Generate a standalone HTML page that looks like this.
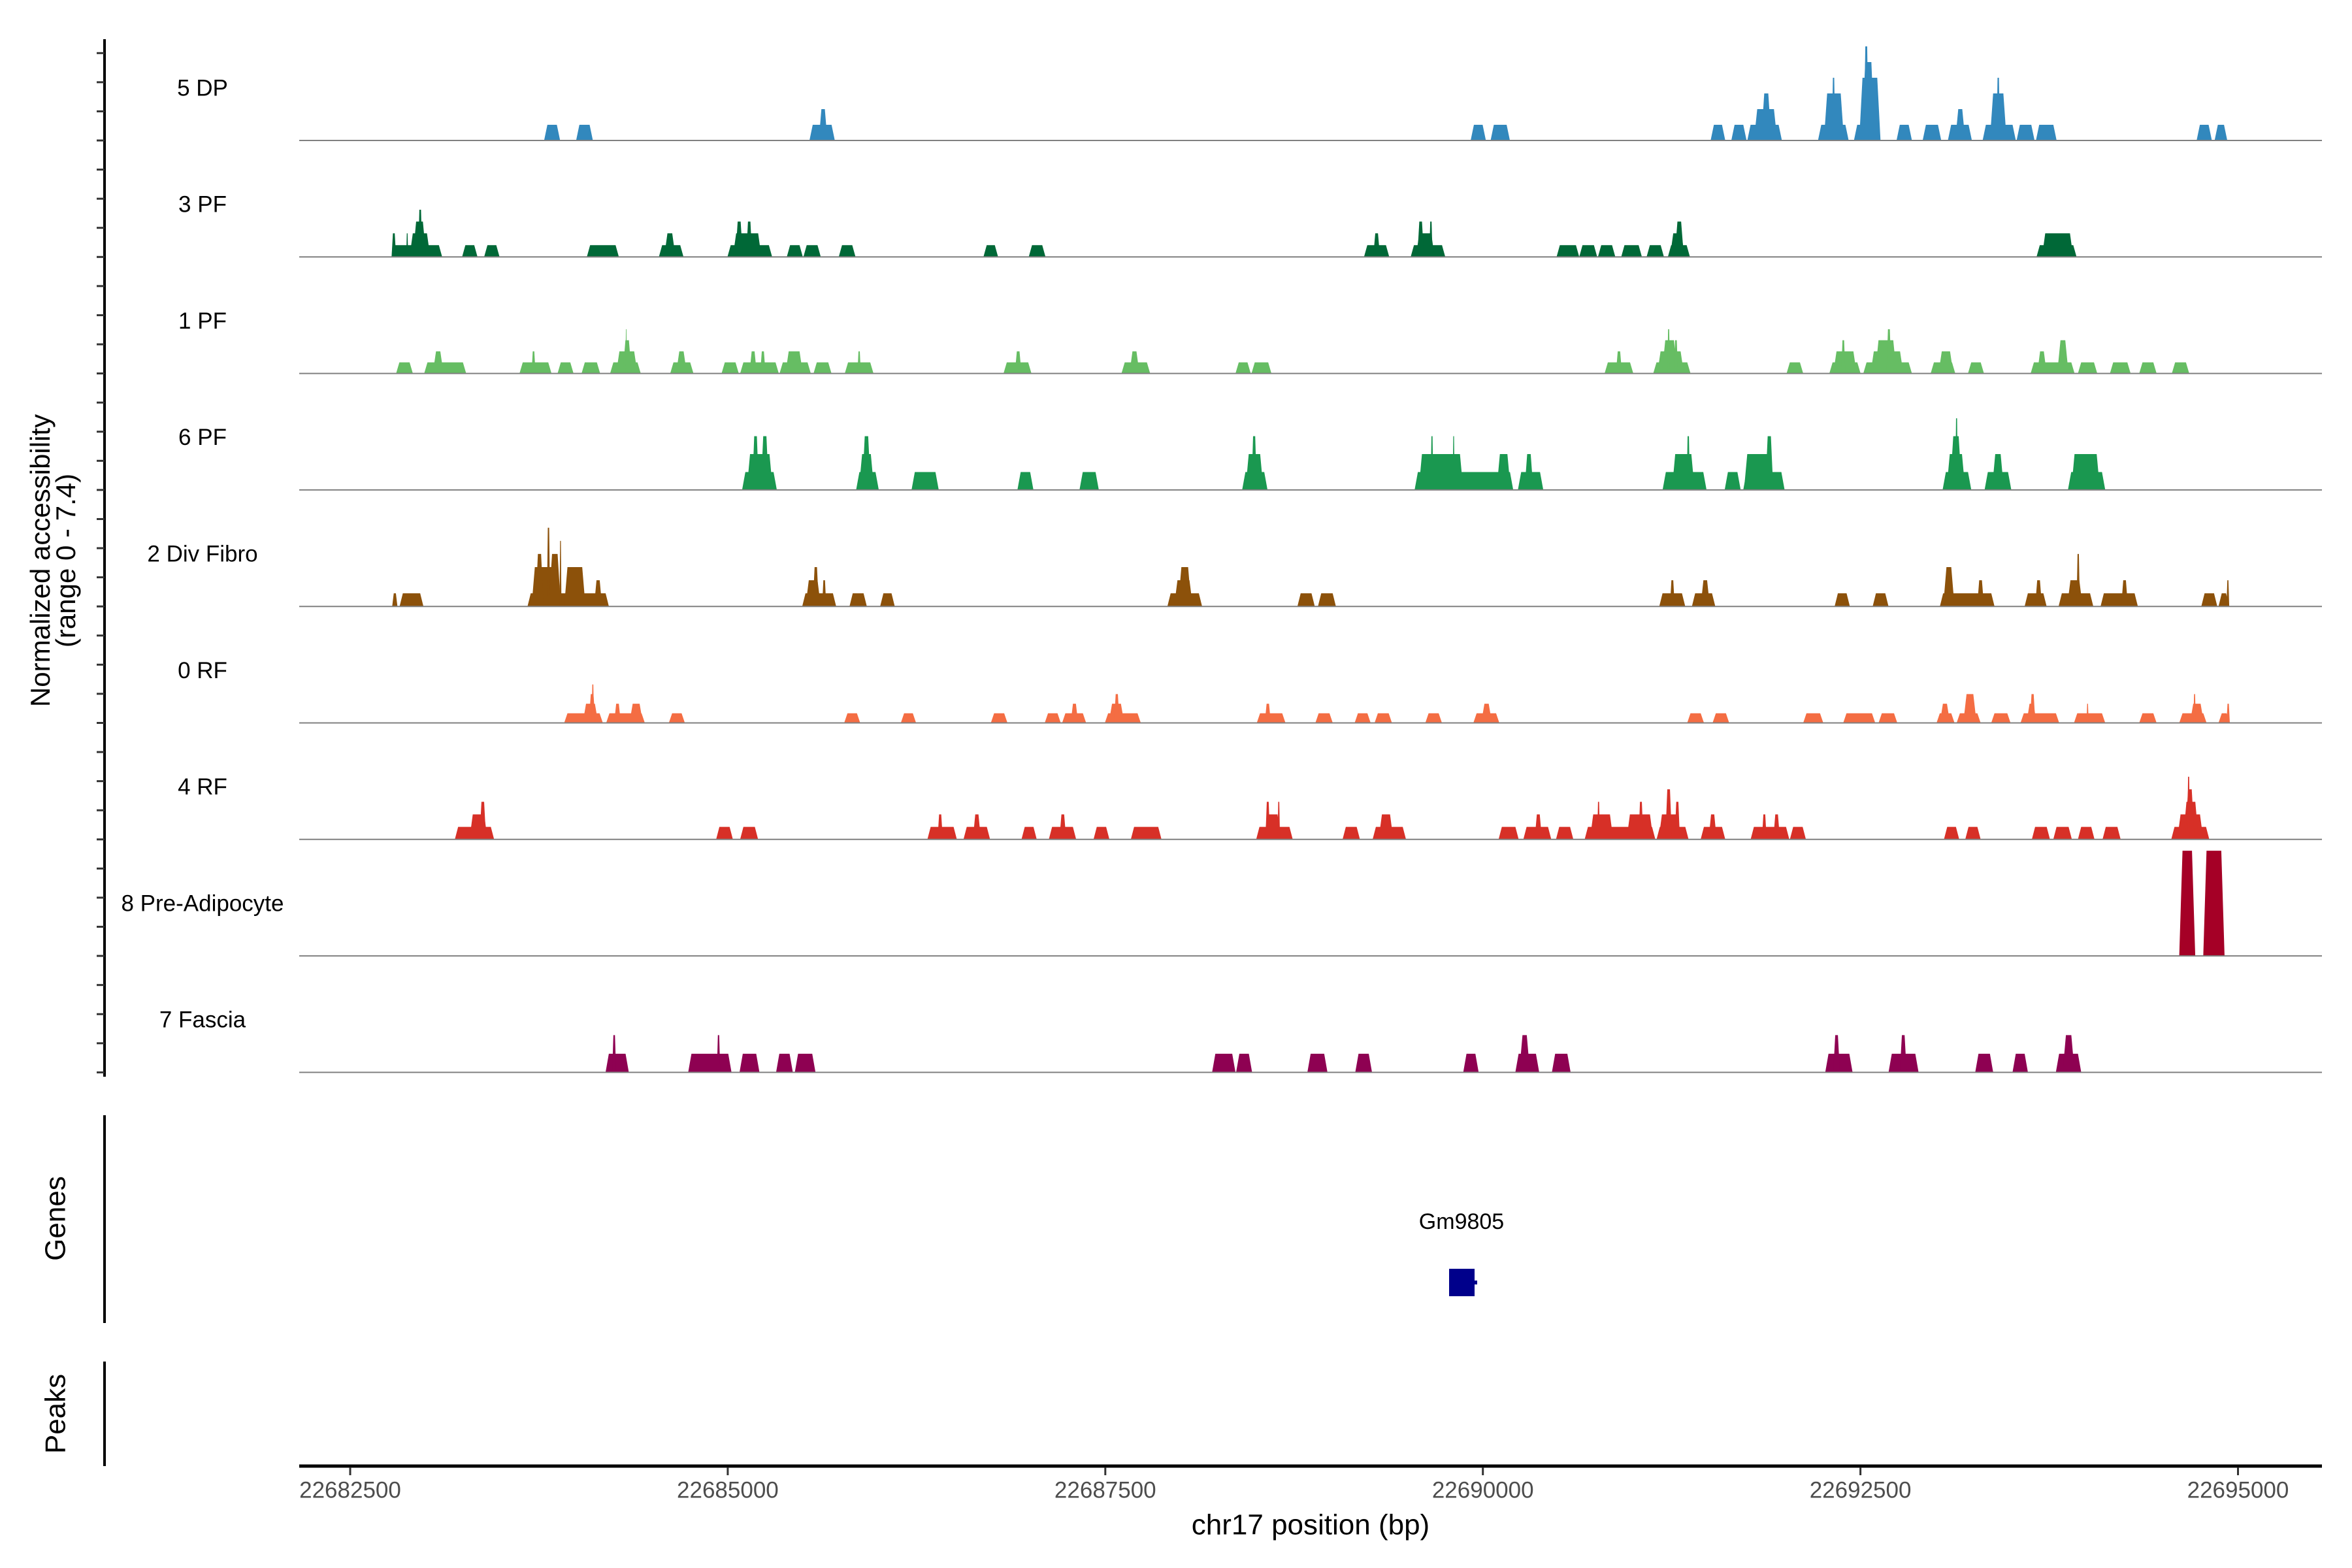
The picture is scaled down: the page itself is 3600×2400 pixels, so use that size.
<!DOCTYPE html>
<html><head><meta charset="utf-8"><style>
html,body{margin:0;padding:0;background:#fff;}
svg{display:block;font-family:"Liberation Sans",Arial,sans-serif;}
</style></head><body>
<svg id="chart" width="3600" height="2400" viewBox="0 0 3600 2400" xmlns="http://www.w3.org/2000/svg">
<rect width="3600" height="2400" fill="#fff"/>
<g id="tracks"></g>
<g id="axes"></g>
<text transform="translate(65,858) rotate(-90)" text-anchor="middle" dominant-baseline="middle" font-size="42" fill="#000">Normalized accessibility</text>
<text transform="translate(104,858) rotate(-90)" text-anchor="middle" dominant-baseline="middle" font-size="42" fill="#000">(range 0 - 7.4)</text>
<text transform="translate(88,1865) rotate(-90)" text-anchor="middle" dominant-baseline="middle" font-size="44" fill="#000">Genes</text>
<text transform="translate(88,2164) rotate(-90)" text-anchor="middle" dominant-baseline="middle" font-size="44" fill="#000">Peaks</text>
<line x1="160" y1="1707" x2="160" y2="2025" stroke="#000" stroke-width="4"/>
<line x1="160" y1="2084" x2="160" y2="2244" stroke="#000" stroke-width="4"/>
<text x="2237" y="1872" text-anchor="middle" dominant-baseline="middle" font-size="34" fill="#000">Gm9805</text>
<rect x="2218" y="1942" width="39" height="42" fill="#00008B"/>
<rect x="2257" y="1960" width="4" height="6" fill="#00008B"/>
<text x="2006" y="2337" text-anchor="middle" dominant-baseline="middle" font-size="44" fill="#000">chr17 position (bp)</text>
</svg>
<script>
const trackNames = ["5 DP","3 PF","1 PF","6 PF","2 Div Fibro","0 RF","4 RF","8 Pre-Adipocyte","7 Fascia"];
const trackColors = ["#3288bd","#006837","#66bd63","#1a9850","#8c510a","#f46d43","#d73027","#a50026","#8e0152"];
const trackUnit = [1.076,0.81,0.76,1.23,0.90,0.66,0.86,7.22,1.28];
const xTicks = [22682500,22685000,22687500,22690000,22692500,22695000];
const yRangeMax = 7.4;
// segments: [start bp, end bp, level]
const seg5DP = [[22683784,22683890,1],[22683996,22684107,1],[22685541,22685709,1],[22685603,22685660,2],
[22689919,22690020,1],[22690051,22690179,1],[22691508,22691605,1],[22691645,22691746,1],[22691751,22691980,1],[22691795,22691949,2],[22691843,22691910,3],
[22692219,22692422,1],[22692258,22692391,3],[22692311,22692333,4],[22692457,22692633,1],[22692492,22692633,4],[22692510,22692594,5],[22692523,22692554,6],
[22692739,22692841,1],[22692912,22693035,1],[22693079,22693238,1],[22693128,22693194,2],[22693309,22693529,1],[22693357,22693468,3],[22693401,22693424,4],
[22693534,22693653,1],[22693662,22693799,1],[22694726,22694827,1],[22694845,22694929,1]];
const seg3PF = [[22682774,22683109,1],[22682774,22682804,2],[22682871,22682884,2],[22682893,22683030,2],[22682915,22683003,3],[22682950,22682977,4],
[22683241,22683343,1],[22683387,22683489,1],[22684067,22684279,1],[22684544,22684707,1],[22684579,22684654,2],[22684998,22685294,1],[22685034,22685223,2],
[22685051,22685100,3],[22685122,22685162,3],[22685391,22685497,1],[22685501,22685616,1],[22685735,22685846,1],[22686693,22686790,1],[22686993,22687104,1],
[22689213,22689380,1],[22689274,22689319,2],[22689522,22689751,1],[22689557,22689680,2],[22689566,22689610,3],[22689645,22689667,3],
[22690488,22690638,1],[22690638,22690757,1],[22690762,22690877,1],[22690916,22691053,1],[22691084,22691199,1],[22691225,22691371,1],[22691239,22691336,2],[22691270,22691331,3],
[22693666,22693931,1],[22693702,22693909,2]];
const seg1PF = [[22682804,22682915,1],[22682990,22683268,1],[22683047,22683118,2],[22683621,22683833,1],[22683701,22683727,2],[22683873,22683979,1],
[22684032,22684155,1],[22684221,22684424,1],[22684261,22684402,2],[22684305,22684363,3],[22684323,22684332,4],[22684619,22684773,1],[22684658,22684729,2],
[22684959,22685073,1],[22685082,22685338,1],[22685144,22685192,2],[22685215,22685250,2],[22685343,22685550,1],[22685382,22685497,2],[22685568,22685687,1],
[22685775,22685965,1],[22685859,22685881,2],[22686826,22687011,1],[22686901,22686945,2],[22687607,22687797,1],[22687660,22687726,2],[22688362,22688463,1],[22688468,22688600,1],
[22690806,22690996,1],[22690881,22690921,2],[22691128,22691375,1],[22691155,22691331,2],[22691186,22691287,3],[22691221,22691239,4],[22691265,22691292,3],
[22692011,22692121,1],[22692294,22692501,1],[22692320,22692475,2],[22692373,22692400,3],[22692519,22692841,1],[22692567,22692784,2],[22692598,22692739,3],[22692673,22692704,4],
[22692965,22693128,1],[22693017,22693115,2],[22693212,22693318,1],[22693627,22693918,1],[22693671,22693733,2],[22693803,22693878,3],
[22693940,22694068,1],[22694152,22694289,1],[22694346,22694461,1],[22694562,22694677,1]];
const seg6PF = [[22685095,22685325,1],[22685126,22685298,2],[22685162,22685206,3],[22685219,22685272,3],[22685850,22686000,1],[22685868,22685969,2],[22685890,22685947,3],
[22686217,22686397,1],[22686918,22687024,1],[22687329,22687457,1],[22688406,22688574,1],[22688428,22688547,2],[22688468,22688503,3],
[22689548,22690201,1],[22689575,22689848,2],[22689654,22689672,3],[22689769,22689870,2],[22689800,22689813,3],[22690091,22690184,2],[22690232,22690400,1],[22690276,22690334,2],
[22691190,22691481,1],[22691252,22691402,2],[22691349,22691371,3],[22691601,22691707,1],[22691724,22691998,1],[22691729,22691923,2],[22691870,22691923,3],
[22693044,22693234,1],[22693070,22693194,2],[22693093,22693172,3],[22693128,22693145,4],[22693322,22693499,1],[22693371,22693450,2],[22693874,22694121,1],[22693896,22694086,2]];
const seg2DF = [[22682778,22682813,1],[22682827,22682985,1],[22683674,22684213,1],[22683701,22683873,3],[22683727,22683780,4],[22683802,22683824,6],[22683815,22683895,4],
[22683886,22683899,5],[22683917,22684058,3],[22684115,22684168,2],[22685493,22685718,1],[22685515,22685616,2],[22685563,22685603,3],[22685625,22685652,2],
[22685806,22685921,1],[22686009,22686106,1],[22687911,22688141,1],[22687956,22688079,2],[22687982,22688070,3],[22688772,22688887,1],[22688908,22689027,1],
[22691168,22691340,1],[22691239,22691270,2],[22691384,22691539,1],[22691442,22691503,2],[22692329,22692430,1],[22692581,22692686,1],
[22693026,22693388,1],[22693048,22693123,3],[22693273,22693318,2],[22693587,22693733,1],[22693657,22693702,2],[22693812,22694042,1],[22693869,22693971,2],[22693931,22693953,4],
[22694090,22694337,1],[22694227,22694271,2],[22694757,22694863,1],[22694871,22694942,1],[22694924,22694942,2]];
const seg0RF = [[22683917,22684173,1],[22684040,22684142,2],[22684080,22684124,3],[22684098,22684115,4],[22684195,22684451,1],[22684248,22684292,2],[22684349,22684438,2],
[22684610,22684716,1],[22685771,22685877,1],[22686146,22686247,1],[22686742,22686852,1],[22687099,22687205,1],[22687214,22687373,1],[22687271,22687320,2],
[22687497,22687735,1],[22687523,22687625,2],[22687558,22687594,3],[22688503,22688693,1],[22688556,22688596,2],[22688891,22689006,1],
[22689151,22689257,1],[22689283,22689398,1],[22689619,22689729,1],[22689937,22690109,1],[22689989,22690060,2],[22691353,22691464,1],[22691521,22691631,1],
[22692121,22692254,1],[22692386,22692598,1],[22692620,22692744,1],[22693004,22693123,1],[22693026,22693093,2],[22693137,22693296,1],[22693181,22693269,3],
[22693366,22693494,1],[22693560,22693816,1],[22693600,22693666,2],[22693622,22693658,3],[22693914,22694121,1],[22693997,22694011,2],[22694346,22694461,1],
[22694611,22694792,1],[22694682,22694774,2],[22694704,22694721,3],[22694871,22694946,1],[22694924,22694946,2]];
const seg4RF = [[22683193,22683453,1],[22683290,22683409,2],[22683356,22683400,3],[22684923,22685034,1],[22685082,22685201,1],[22686322,22686517,1],[22686389,22686424,2],
[22686561,22686737,1],[22686623,22686676,2],[22686945,22687046,1],[22687126,22687307,1],[22687196,22687241,2],[22687422,22687527,1],[22687669,22687872,1],
[22688499,22688741,1],[22688552,22688662,2],[22688560,22688591,3],[22688640,22688657,3],[22689071,22689186,1],[22689270,22689491,1],[22689310,22689407,2],
[22690104,22690237,1],[22690268,22690453,1],[22690343,22690391,2],[22690484,22690599,1],[22690674,22691142,1],[22690709,22690863,2],[22690757,22690775,3],
[22690952,22691128,2],[22691031,22691062,3],[22691150,22691362,1],[22691164,22691305,2],[22691208,22691252,4],[22691270,22691305,3],[22691442,22691605,1],[22691495,22691548,2],
[22691773,22692029,1],[22691848,22691879,2],[22691923,22691967,2],[22692033,22692139,1],[22693053,22693154,1],[22693194,22693296,1],[22693635,22693755,1],
[22693777,22693900,1],[22693940,22694050,1],[22694103,22694223,1],[22694558,22694810,1],[22694598,22694770,2],[22694637,22694739,3],[22694651,22694712,4],[22694664,22694682,5]];
const seg8PA = [[22694611,22694717,1],[22694770,22694911,1]];
const seg7F = [[22684191,22684345,1],[22684235,22684261,2],[22684738,22685025,1],[22684928,22684950,2],[22685078,22685210,1],[22685320,22685431,1],[22685444,22685581,1],
[22688207,22688362,1],[22688366,22688472,1],[22688838,22688971,1],[22689155,22689266,1],[22689870,22689972,1],[22690215,22690373,1],[22690241,22690312,2],
[22690457,22690581,1],[22692267,22692448,1],[22692320,22692364,2],[22692686,22692885,1],[22692761,22692806,2],[22693260,22693379,1],[22693507,22693609,1],
[22693794,22693962,1],[22693839,22693918,2]];
const trackSegments = [seg5DP,seg3PF,seg1PF,seg6PF,seg2DF,seg0RF,seg4RF,seg8PA,seg7F];

const NS = "http://www.w3.org/2000/svg";
const X0 = 458, X1 = 3554;
function xScale(bp){ return 536 + (bp - 22682500) * (577.9/2500); }
function baseline(i){ return 215 + i * 178.3; }
function hScale(v){ return v / yRangeMax * 165; }
function mk(tag, attrs, parent){ const e = document.createElementNS(NS, tag); for (const k in attrs) e.setAttribute(k, attrs[k]); parent.appendChild(e); return e; }

const tracksG = document.getElementById('tracks');
const axesG = document.getElementById('axes');

trackNames.forEach((name, i) => {
  const g = mk('g', {}, tracksG);
  
  
  const by = baseline(i);
  const lab = mk('text', {x: 310, y: by - 78, 'text-anchor': 'middle', 'dominant-baseline': 'middle', 'font-size': 35, fill: '#000'}, g);
  lab.textContent = name;
  
  
  trackSegments[i].forEach(s => {
    const xa = xScale(s[0]), xb = xScale(s[1]);
    const h = hScale(s[2] * trackUnit[i]);
    const sl = Math.min(5, (xb - xa) * 0.3);
    const p = mk('polygon', {points: `${xa},${by} ${xa+sl},${by-h} ${xb-sl},${by-h} ${xb},${by}`, fill: trackColors[i]}, g);
    
    
  });
  const bl = mk('line', {x1: X0, y1: by, x2: X1, y2: by, stroke: '#808080', 'stroke-width': 2}, g);
  
  
});

const ya = mk('line', {x1: 160, y1: 60, x2: 160, y2: 1648, stroke: '#000', 'stroke-width': 4}, axesG);


for (let k = -3; k <= 32; k++) {
  const y = 215 + k * 178.3 / 4;
  if (y < 70 || y > 1645) continue;
  const t = mk('line', {x1: 148, y1: y, x2: 160, y2: y, stroke: '#333', 'stroke-width': 3}, axesG);
  
  
}
const xa = mk('line', {x1: X0, y1: 2244, x2: X1, y2: 2244, stroke: '#000', 'stroke-width': 5}, axesG);


xTicks.forEach(v => {
  const x = xScale(v);
  const t = mk('line', {x1: x, y1: 2246, x2: x, y2: 2258, stroke: '#333', 'stroke-width': 3}, axesG);
  
  
  const l = mk('text', {x: x, y: 2283, 'text-anchor': 'middle', 'dominant-baseline': 'middle', 'font-size': 35, fill: '#4d4d4d'}, axesG);
  l.textContent = String(v);
  
  
});
</script>
</body></html>
